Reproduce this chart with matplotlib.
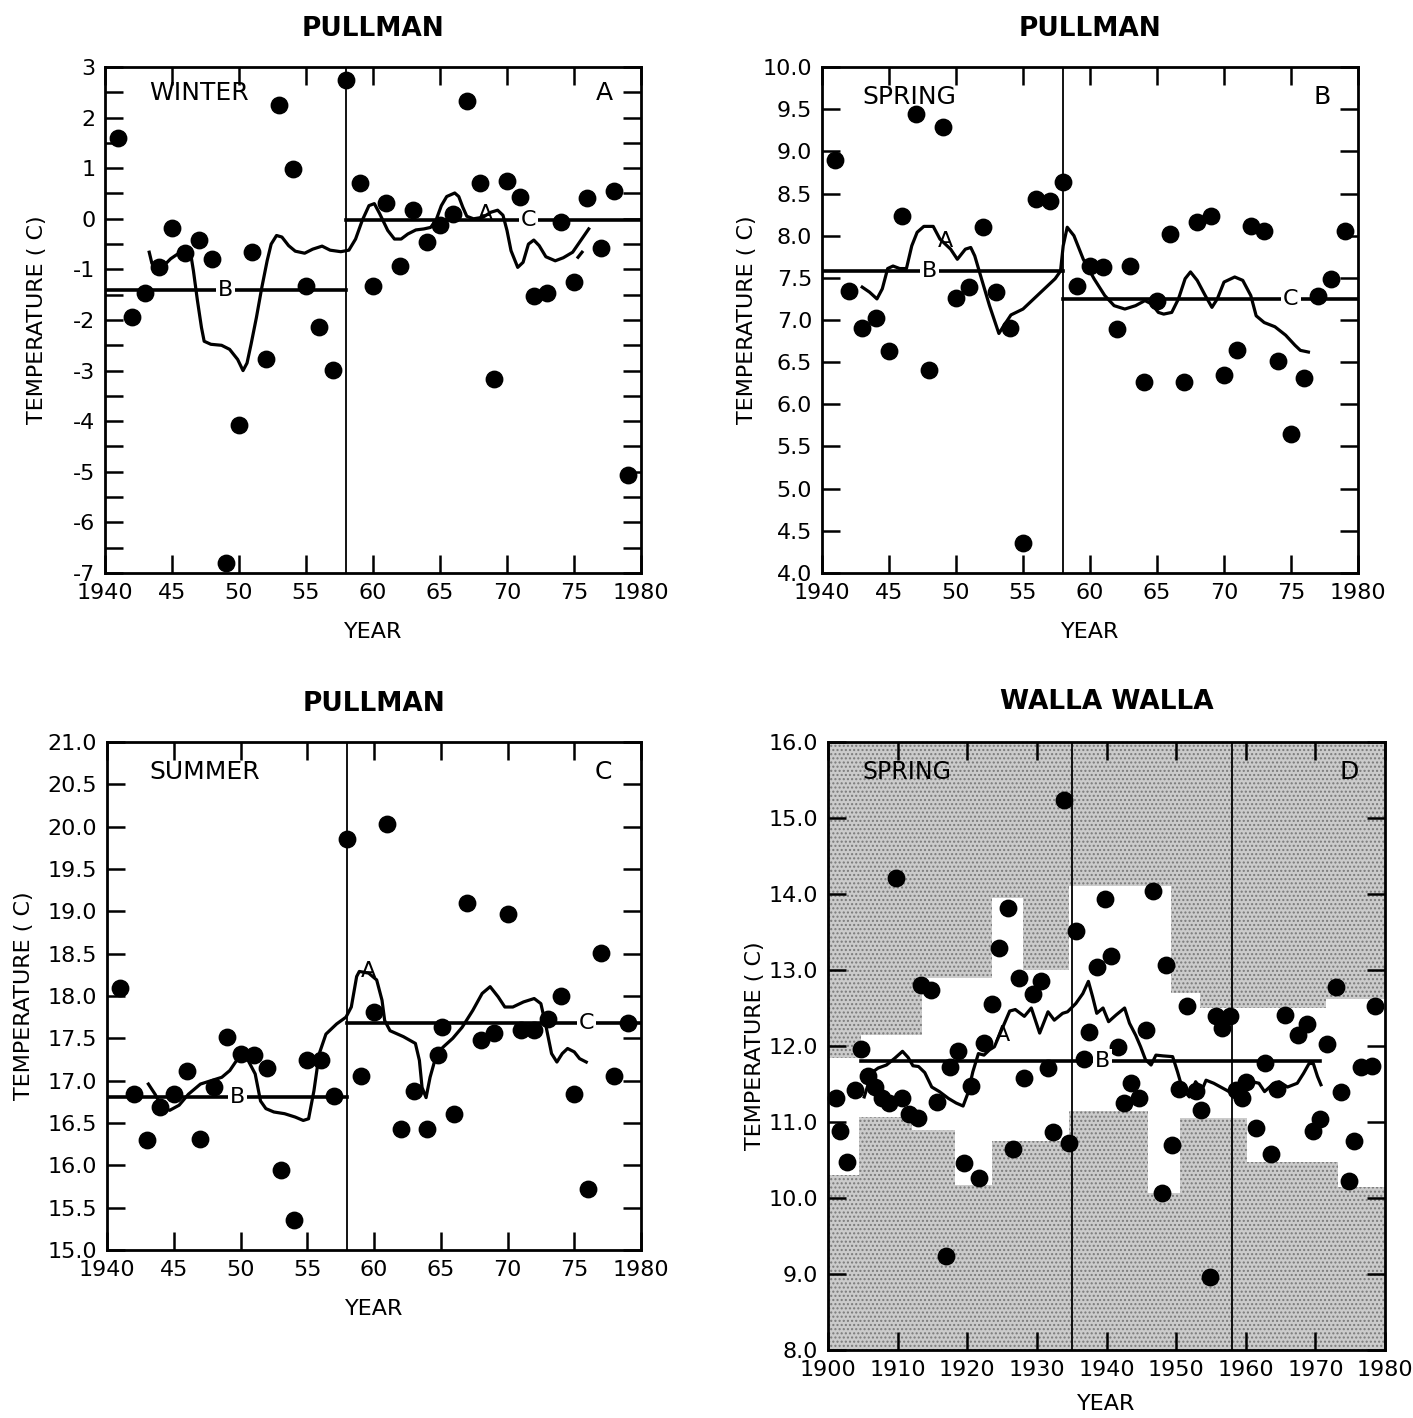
import numpy as np
import matplotlib
matplotlib.use('Agg')
import matplotlib.pyplot as plt
from matplotlib.ticker import MultipleLocator, FixedLocator

plt.rcParams['font.family'] = ['DejaVu Sans']

# ---------------- data ----------------
# Pullman winter (panel A)
win_years = list(range(1941, 1980))
win_temp = [1.6, -1.95, -1.46, -0.95, -0.19, -0.68, -0.42, -0.79, -6.8, -4.07,
            -0.65, -2.78, 2.24, 0.99, -1.32, -2.14, -2.99, 2.75, 0.71, -1.32,
            0.32, -0.94, 0.17, -0.46, -0.13, 0.1, 2.32, 0.70, -3.16, 0.74,
            0.43, -1.53, -1.46, -0.07, -1.24, 0.42, -0.58, 0.54, -5.07]
win_curve_x = [1943.3, 1943.5, 1943.8, 1944.3, 1944.9, 1945.4, 1945.9, 1946.4, 1946.6,
               1946.9, 1947.2, 1947.4, 1947.9, 1948.7, 1949.3, 1949.9, 1950.3, 1950.6,
               1950.9, 1951.3, 1951.7, 1952.1, 1952.4, 1952.8, 1953.2, 1953.7, 1954.2,
               1954.9, 1955.5, 1956.2, 1956.8, 1957.6, 1958.2, 1958.7, 1959.2, 1959.7,
               1960.1, 1960.5, 1961.1, 1961.6, 1962.1, 1962.6, 1963.2, 1963.8, 1964.3,
               1964.7, 1965.1, 1965.5, 1966.1, 1966.4, 1966.7, 1967.0, 1967.5, 1968.2,
               1968.8, 1969.3, 1969.7, 1970.0, 1970.3, 1970.8, 1971.2, 1971.6, 1972.0,
               1972.4, 1972.9, 1973.6, 1974.2, 1974.9, 1975.5, 1976.1]
win_curve_y = [-0.66, -0.88, -0.99, -0.95, -0.79, -0.70, -0.62, -0.70, -1.03,
               -1.62, -2.15, -2.42, -2.48, -2.50, -2.58, -2.78, -3.0, -2.85,
               -2.48, -1.95, -1.36, -0.83, -0.50, -0.33, -0.36, -0.53, -0.64,
               -0.68, -0.60, -0.54, -0.62, -0.65, -0.62, -0.40, -0.03, 0.26,
               0.30, 0.10, -0.23, -0.40, -0.40, -0.30, -0.22, -0.20, -0.17,
               -0.03, 0.26, 0.44, 0.51, 0.44, 0.23, 0.05, 0.0, 0.03,
               0.13, 0.17, 0.07, -0.23, -0.63, -0.96, -0.86, -0.50, -0.42,
               -0.53, -0.75, -0.83, -0.77, -0.66, -0.43, -0.20]
win_tick_x = [1975.3, 1975.6]
win_tick_y = [-0.76, -0.66]
win_before, win_after = -1.40, -0.03

# Pullman spring (panel B)
spr_years = list(range(1941, 1980))
spr_temp = [8.90, 7.34, 6.90, 7.02, 6.63, 8.23, 9.44, 6.41, 9.29, 7.26,
            7.39, 8.10, 7.33, 6.90, 4.36, 8.44, 8.41, 8.64, 7.40, 7.64,
            7.63, 6.89, 7.64, 6.27, 7.22, 8.02, 6.27, 8.16, 8.23, 6.35,
            6.65, 8.11, 8.05, 6.51, 5.65, 6.31, 7.28, 7.49, 8.05]
spr_curve_x = [1943.0, 1943.55, 1944.1, 1944.5, 1944.9, 1945.3, 1945.8, 1946.3, 1946.7,
               1947.1, 1947.6, 1948.3, 1948.8, 1949.6, 1950.1, 1950.7, 1951.1, 1951.4,
               1951.9, 1952.5, 1953.2, 1953.6, 1954.1, 1955.0, 1955.8, 1956.6, 1957.4,
               1957.8, 1958.0, 1958.3, 1958.8, 1959.5, 1960.3, 1961.1, 1961.8, 1962.6,
               1963.4, 1964.1, 1964.6, 1965.1, 1965.5, 1966.1, 1966.6, 1967.1, 1967.5,
               1968.0, 1968.6, 1969.1, 1969.5, 1970.0, 1970.8, 1971.4, 1972.0, 1972.4,
               1973.0, 1973.8, 1974.6, 1975.3, 1975.7, 1976.3]
spr_curve_y = [7.39, 7.33, 7.25, 7.37, 7.61, 7.64, 7.61, 7.61, 7.88,
               8.04, 8.11, 8.11, 7.96, 7.84, 7.72, 7.84, 7.86, 7.76,
               7.49, 7.17, 6.84, 6.94, 7.06, 7.13, 7.25, 7.37, 7.49,
               7.58, 7.88, 8.10, 8.00, 7.72, 7.49, 7.29, 7.17, 7.13,
               7.17, 7.23, 7.19, 7.09, 7.07, 7.09, 7.25, 7.49, 7.57,
               7.47, 7.29, 7.15, 7.25, 7.45, 7.51, 7.47, 7.29, 7.05,
               6.97, 6.92, 6.82, 6.70, 6.64, 6.62]
spr_before, spr_after = 7.58, 7.25

# Pullman summer (panel C)
sum_years = [1941, 1942, 1943, 1944, 1945, 1946, 1947, 1948, 1949, 1950,
             1951, 1952, 1953, 1954, 1955, 1956, 1957, 1958, 1959, 1960,
             1961, 1962, 1963, 1964, 1964.8, 1965.1, 1966, 1967, 1968, 1969,
             1970, 1971, 1972, 1973, 1974, 1975, 1976, 1977, 1978, 1979]
sum_temp = [18.09, 16.84, 16.30, 16.69, 16.84, 17.11, 16.31, 16.92, 17.52, 17.31,
            17.30, 17.15, 15.95, 15.35, 17.24, 17.24, 16.82, 19.86, 17.05, 17.81,
            20.03, 16.43, 16.88, 16.43, 17.30, 17.63, 16.61, 19.10, 17.48, 17.56,
            18.97, 17.60, 17.60, 17.73, 18.00, 16.84, 15.72, 18.51, 17.05, 17.68]
sum_curve_x = [1943.1, 1943.6, 1944.1, 1944.7, 1945.4, 1946.1, 1947.0, 1947.8, 1948.6,
               1949.2, 1949.8, 1950.2, 1950.5, 1951.1, 1951.5, 1951.9, 1952.5, 1953.3,
               1954.1, 1954.7, 1955.1, 1955.5, 1955.9, 1956.4, 1957.2, 1957.9, 1958.3,
               1958.7, 1958.9, 1959.6, 1960.2, 1960.6, 1960.8, 1961.2, 1962.2, 1963.1,
               1963.4, 1963.6, 1963.9, 1964.2, 1964.7, 1965.2, 1965.9, 1966.6, 1967.4,
               1968.1, 1968.7, 1969.3, 1969.8, 1970.4, 1971.2, 1972.0, 1972.5, 1972.9,
               1973.3, 1973.7, 1974.1, 1974.5, 1975.0, 1975.4, 1975.9]
sum_curve_y = [16.96, 16.84, 16.69, 16.65, 16.71, 16.84, 16.96, 17.00, 17.04,
               17.12, 17.26, 17.32, 17.26, 17.08, 16.76, 16.67, 16.63, 16.61,
               16.57, 16.53, 16.55, 16.88, 17.32, 17.55, 17.67, 17.75, 17.87,
               18.23, 18.29, 18.27, 18.19, 17.95, 17.71, 17.59, 17.52, 17.44,
               17.24, 16.92, 16.80, 17.04, 17.32, 17.40, 17.50, 17.63, 17.83,
               18.03, 18.11, 17.99, 17.87, 17.87, 17.93, 17.97, 17.91, 17.63,
               17.32, 17.22, 17.32, 17.38, 17.34, 17.26, 17.22]
sum_before, sum_after = 16.81, 17.68

# Walla Walla spring (panel D)
ww_years = [1901.2, 1901.7, 1902.7, 1903.9, 1904.8, 1905.8, 1906.7, 1907.7, 1908.7, 1909.8,
            1910.7, 1911.7, 1912.9, 1913.4, 1914.8, 1915.7, 1917.0, 1917.5, 1918.6, 1919.6,
            1920.5, 1921.7, 1922.4, 1923.5, 1924.6, 1925.8, 1926.5, 1927.5, 1928.2, 1929.5,
            1930.6, 1931.6, 1932.3, 1933.9, 1934.6, 1935.6, 1936.7, 1937.5, 1938.7, 1939.8,
            1940.7, 1941.6, 1942.5, 1943.5, 1944.6, 1945.7, 1946.7, 1948.0, 1948.6, 1949.4,
            1950.4, 1951.6, 1952.8, 1953.6, 1954.9, 1955.7, 1956.6, 1957.7, 1958.6, 1959.5,
            1960.0, 1961.5, 1962.8, 1963.6, 1964.5, 1965.6, 1967.5, 1968.8, 1969.7, 1970.7,
            1971.6, 1973.0, 1973.7, 1974.9, 1975.6, 1976.5, 1978.1, 1978.6]
ww_temp = [11.31, 10.88, 10.48, 11.42, 11.96, 11.61, 11.46, 11.31, 11.25, 14.21,
           11.32, 11.11, 11.05, 12.80, 12.74, 11.26, 9.24, 11.72, 11.93, 10.46,
           11.48, 10.26, 12.04, 12.55, 13.29, 13.82, 10.65, 12.89, 11.58, 12.68,
           12.86, 11.71, 10.87, 15.24, 10.72, 13.51, 11.83, 12.18, 13.04, 13.94,
           13.18, 11.99, 11.25, 11.51, 11.31, 12.21, 14.04, 10.06, 13.07, 10.70,
           11.43, 12.52, 11.41, 11.16, 8.96, 12.40, 12.24, 12.39, 11.42, 11.31,
           11.53, 10.92, 11.78, 10.58, 11.44, 12.41, 12.15, 12.29, 10.88, 11.04,
           12.03, 12.77, 11.39, 10.23, 10.75, 11.73, 11.74, 12.53]
ww_curve_x = [1905.2, 1906.3, 1907.2, 1908.4, 1909.6, 1910.7, 1911.5, 1912.2, 1913.0,
              1913.9, 1914.9, 1916.0, 1917.3, 1918.4, 1919.4, 1920.1, 1920.8, 1921.6,
              1922.4, 1923.2, 1923.9, 1926.1, 1926.9, 1928.2, 1929.2, 1930.4, 1931.6,
              1932.5, 1933.7, 1934.4, 1935.6, 1936.6, 1937.4, 1938.0, 1938.6, 1939.5,
              1940.3, 1941.4, 1942.6, 1943.3, 1944.2, 1944.9, 1945.6, 1946.4, 1947.1,
              1948.1, 1949.5, 1950.2, 1950.9, 1951.9, 1952.8, 1953.7, 1954.3, 1955.4,
              1956.4, 1957.6, 1958.8, 1959.7, 1960.9, 1961.9, 1962.7, 1963.8, 1964.8,
              1966.0, 1967.4, 1968.3, 1969.1, 1969.7, 1970.3, 1970.8]
ww_curve_y = [11.33, 11.65, 11.71, 11.75, 11.84, 11.93, 11.85, 11.74, 11.73,
              11.65, 11.46, 11.40, 11.31, 11.25, 11.21, 11.38, 11.66, 11.90,
              11.88, 11.95, 11.99, 12.46, 12.48, 12.39, 12.50, 12.17, 12.45,
              12.34, 12.43, 12.45, 12.56, 12.69, 12.85, 12.65, 12.43, 12.50,
              12.32, 12.41, 12.50, 12.30, 12.14, 11.99, 11.82, 11.75, 11.88,
              11.87, 11.86, 11.66, 11.44, 11.33, 11.53, 11.42, 11.55, 11.51,
              11.46, 11.40, 11.46, 11.55, 11.53, 11.51, 11.40, 11.49, 11.53,
              11.46, 11.51, 11.64, 11.77, 11.77, 11.60, 11.49]
ww_mean = 11.8
ww_mean_span = [1904.7, 1970.6]
# white band limits (stippled outside)
band_up_years = [1900, 1904.8, 1913.5, 1923.5, 1928.0, 1934.6, 1949.3, 1953.5, 1971.5, 1980]
band_up_vals = [11.84, 12.14, 12.89, 13.95, 13.0, 14.1, 12.7, 12.5, 12.62, 12.62]
band_lo_years = [1900, 1904.5, 1912.0, 1918.3, 1923.5, 1934.6, 1946.0, 1950.5, 1960.2, 1973.3, 1980]
band_lo_vals = [10.3, 11.07, 10.9, 10.17, 10.75, 11.15, 10.06, 11.05, 10.48, 10.14, 10.14]

# ---------------- figure ----------------
fig = plt.figure(figsize=(14.13, 14.18), dpi=100)
W, H = 1413.0, 1418.0


def make_axes(l, r, t, b):
    return fig.add_axes([l / W, 1 - b / H, (r - l) / W, (b - t) / H])


axA = make_axes(105, 641, 67, 573)
axB = make_axes(822, 1358, 67, 573)
axC = make_axes(107, 641, 742, 1250)
axD = make_axes(828, 1385, 742, 1350)

DOT = 140
TXT = 15
LW = 2.3


def style(ax, xlim, ylim, xstep, ystep, xlabels, ylab_fmt, ylab_x, ticks_minor=None):
    ax.set_xlim(xlim)
    ax.set_ylim(ylim)
    for s in ax.spines.values():
        s.set_linewidth(2)
    xt = np.arange(xlim[0], xlim[1] + 1, xstep)
    ax.xaxis.set_major_locator(FixedLocator(xt))
    ax.set_xticklabels(xlabels)
    yt = np.arange(ylim[0], ylim[1] + 0.001, ystep)
    ax.yaxis.set_major_locator(FixedLocator(yt))
    ax.set_yticklabels([ylab_fmt(v) for v in yt])
    if ticks_minor:
        ax.yaxis.set_minor_locator(MultipleLocator(ticks_minor))
    ax.tick_params(which='both', direction='in', length=13, width=1.8,
                   top=True, right=True, labelsize=TXT + 1, pad=7)
    ax.set_xlabel('YEAR', fontsize=TXT + 1, labelpad=14)
    ax.set_ylabel('TEMPERATURE ( C)', fontsize=TXT + 1)
    ax.yaxis.set_label_coords(ylab_x, 0.5)


def on_line_label(ax, x, y, s):
    ax.text(x, y, s, fontsize=TXT + 1, ha='center', va='center', zorder=4,
            bbox=dict(facecolor='white', edgecolor='none', pad=1.5))


pull_xlabels = ['1940', '45', '50', '55', '60', '65', '70', '75', '1980']

# panel A - winter
ax = axA
style(ax, (1940, 1980), (-7, 3), 5, 1, pull_xlabels, lambda v: '%d' % v, -0.109, 0.5)
ax.axvline(1958, color='black', lw=1.3, zorder=2)
ax.plot([1940, 1958], [win_before, win_before], color='black', lw=2.6, zorder=2)
ax.plot([1958, 1980], [win_after, win_after], color='black', lw=2.6, zorder=2)
ax.plot(win_curve_x, win_curve_y, color='black', lw=LW, zorder=2)
ax.plot(win_tick_x, win_tick_y, color='black', lw=LW, zorder=2)
ax.scatter(win_years, win_temp, s=DOT, color='black', zorder=3, clip_on=False)
on_line_label(ax, 1949, win_before, 'B')
on_line_label(ax, 1971.6, win_after, 'C')
ax.text(1968.4, 0.1, 'A', fontsize=TXT + 1, ha='center', va='center', zorder=4)
ax.text(1943.3, 2.48, 'WINTER', fontsize=TXT + 3, ha='left', va='center')
ax.text(1977.3, 2.48, 'A', fontsize=TXT + 3, ha='center', va='center')
ax.set_title('PULLMAN', fontsize=19, fontweight='bold', pad=22)

# panel B - spring
ax = axB
style(ax, (1940, 1980), (4, 10), 5, 0.5, pull_xlabels, lambda v: '%.1f' % v, -0.122)
ax.axvline(1958, color='black', lw=1.3, zorder=2)
ax.plot([1940, 1958], [spr_before, spr_before], color='black', lw=2.6, zorder=2)
ax.plot([1958, 1980], [spr_after, spr_after], color='black', lw=2.6, zorder=2)
ax.plot(spr_curve_x, spr_curve_y, color='black', lw=LW, zorder=2)
ax.scatter(spr_years, spr_temp, s=DOT, color='black', zorder=3, clip_on=False)
on_line_label(ax, 1948, spr_before, 'B')
on_line_label(ax, 1975, spr_after, 'C')
ax.text(1949.2, 7.94, 'A', fontsize=TXT + 1, ha='center', va='center', zorder=4)
ax.text(1943.0, 9.64, 'SPRING', fontsize=TXT + 3, ha='left', va='center')
ax.text(1977.3, 9.64, 'B', fontsize=TXT + 3, ha='center', va='center')
ax.set_title('PULLMAN', fontsize=19, fontweight='bold', pad=22)

# panel C - summer
ax = axC
style(ax, (1940, 1980), (15, 21), 5, 0.5, pull_xlabels, lambda v: '%.1f' % v, -0.137)
ax.axvline(1958, color='black', lw=1.3, zorder=2)
ax.plot([1940, 1958], [sum_before, sum_before], color='black', lw=2.6, zorder=2)
ax.plot([1958, 1980], [sum_after, sum_after], color='black', lw=2.6, zorder=2)
ax.plot(sum_curve_x, sum_curve_y, color='black', lw=LW, zorder=2)
ax.scatter(sum_years, sum_temp, s=DOT, color='black', zorder=3, clip_on=False)
on_line_label(ax, 1949.8, sum_before, 'B')
on_line_label(ax, 1975.9, sum_after, 'C')
ax.text(1959.6, 18.3, 'A', fontsize=TXT + 1, ha='center', va='center', zorder=4)
ax.text(1943.2, 20.64, 'SUMMER', fontsize=TXT + 3, ha='left', va='center')
ax.text(1977.2, 20.64, 'C', fontsize=TXT + 3, ha='center', va='center')
ax.set_title('PULLMAN', fontsize=19, fontweight='bold', pad=22)

# panel D - Walla Walla
ax = axD
ww_xlabels = [str(y) for y in range(1900, 1981, 10)]
style(ax, (1900, 1980), (8, 16), 10, 1, ww_xlabels, lambda v: '%.1f' % v, -0.114)
stip = dict(step='post', facecolor='#cbcbcb', edgecolor='#7a7a7a', hatch='....',
            linewidth=0, zorder=0.5)
ax.fill_between(band_up_years, band_up_vals, 16, **stip)
ax.fill_between(band_lo_years, 8, band_lo_vals, **stip)
ax.axvline(1935, color='black', lw=1.3, zorder=2)
ax.axvline(1958, color='black', lw=1.3, zorder=2)
ax.plot(ww_mean_span, [ww_mean, ww_mean], color='black', lw=2.6, zorder=2)
ax.plot(ww_curve_x, ww_curve_y, color='black', lw=LW, zorder=2)
ax.scatter(ww_years, ww_temp, s=DOT, color='black', zorder=3, clip_on=False)
on_line_label(ax, 1939.4, ww_mean, 'B')
ax.text(1925.1, 12.14, 'A', fontsize=TXT + 1, ha='center', va='center', zorder=4)
ax.text(1904.9, 15.6, 'SPRING', fontsize=TXT + 2, ha='left', va='center')
ax.text(1974.8, 15.6, 'D', fontsize=TXT + 3, ha='center', va='center')
ax.set_xlabel('YEAR', fontsize=TXT + 1, labelpad=10)
ax.set_title('WALLA WALLA', fontsize=19, fontweight='bold', pad=24)

fig.savefig('out.png', dpi=100)
